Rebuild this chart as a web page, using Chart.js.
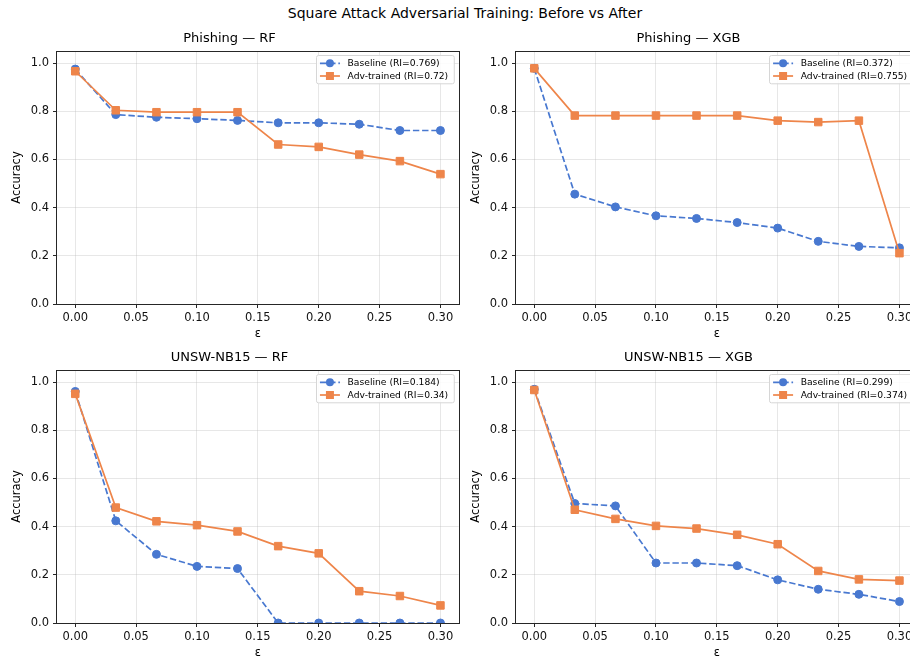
<!DOCTYPE html>
<html><head><meta charset="utf-8">
<script src="https://cdn.jsdelivr.net/npm/chart.js@4.4.1/dist/chart.umd.min.js"></script>
<style>
html,body{margin:0;padding:0;background:#fff;width:910px;height:658px;overflow:hidden;position:relative;}
#sup{position:absolute;left:0;width:930px;top:5px;text-align:center;font:14px 'DejaVu Sans';line-height:17px;color:#000;white-space:nowrap;}
canvas{position:absolute;}
</style></head><body>
<div id="sup">Square Attack Adversarial Training: Before vs After</div>
<canvas id="c0" width="465" height="342" style="left:0px;top:0px"></canvas>
<canvas id="c1" width="465" height="342" style="left:459px;top:0px"></canvas>
<canvas id="c2" width="465" height="342" style="left:0px;top:319px"></canvas>
<canvas id="c3" width="465" height="342" style="left:459px;top:319px"></canvas>
<script>
// ---- data ----
const epsilon = [0, 0.0333, 0.0667, 0.1, 0.1333, 0.1667, 0.2, 0.2333, 0.2667, 0.3];
const xTickValues = [0, 0.05, 0.10, 0.15, 0.20, 0.25, 0.30];
const yTickValues = [0, 0.2, 0.4, 0.6, 0.8, 1.0];
const panelTitles = ['Phishing — RF', 'Phishing — XGB', 'UNSW-NB15 — RF', 'UNSW-NB15 — XGB'];
const baselineRI = ['0.769', '0.372', '0.184', '0.299'];
const advRI = ['0.72', '0.755', '0.34', '0.374'];
const phishingRFBaseline = [0.975, 0.786, 0.775, 0.769, 0.762, 0.752, 0.752, 0.746, 0.720, 0.720];
const phishingRFAdv      = [0.966, 0.804, 0.796, 0.796, 0.796, 0.662, 0.652, 0.620, 0.593, 0.539];
const phishingXGBBaseline = [0.978, 0.456, 0.403, 0.366, 0.355, 0.338, 0.315, 0.260, 0.239, 0.233];
const phishingXGBAdv      = [0.978, 0.782, 0.782, 0.782, 0.782, 0.782, 0.761, 0.755, 0.761, 0.211];
const unswRFBaseline = [0.961, 0.424, 0.285, 0.235, 0.226, 0, 0, 0, 0, 0];
const unswRFAdv      = [0.951, 0.479, 0.422, 0.406, 0.380, 0.319, 0.289, 0.132, 0.112, 0.073];
const unswXGBBaseline = [0.970, 0.496, 0.486, 0.249, 0.249, 0.238, 0.179, 0.140, 0.119, 0.089];
const unswXGBAdv      = [0.967, 0.470, 0.432, 0.403, 0.392, 0.366, 0.327, 0.216, 0.181, 0.176];
const baselineSeries = [phishingRFBaseline, phishingXGBBaseline, unswRFBaseline, unswXGBBaseline];
const advSeries = [phishingRFAdv, phishingXGBAdv, unswRFAdv, unswXGBAdv];

const BLUE = '#4878d0', ORANGE = '#ee854a';
const FONT = 'DejaVu Sans';

const framePlugin = {
  id: 'frame',
  afterDatasetsDraw(chart) {
    const {ctx, chartArea: a} = chart;
    ctx.save();
    ctx.strokeStyle = '#262626';
    ctx.lineWidth = 1;
    const l = Math.round(a.left) - 0.5, t = Math.round(a.top) + 0.5;
    const r = Math.round(a.right) + 0.5, b = Math.round(a.bottom) + 0.5;
    ctx.strokeRect(l, t, r - l, b - t);
    ctx.restore();
  }
};

const legendPlugin = {
  id: 'mplLegend',
  afterDraw(chart) {
    const {ctx, chartArea: a} = chart;
    const ds = chart.data.datasets;
    ctx.save();
    ctx.font = '9.2px ' + FONT;
    let maxW = 0;
    ds.forEach(d => { maxW = Math.max(maxW, ctx.measureText(d.label).width); });
    const w = 31.6 + maxW + 5.5, h = 28.3;
    const x = a.right - 5 - w, y = a.top + 4;
    ctx.fillStyle = 'rgba(255,255,255,0.85)';
    ctx.strokeStyle = '#d6d6d6';
    ctx.lineWidth = 1;
    ctx.beginPath();
    ctx.roundRect(Math.round(x) + 0.5, Math.round(y) + 0.5, w, h, 2);
    ctx.fill(); ctx.stroke();
    ds.forEach((d, i) => {
      const cy = y + 8.3 + i * 12.7;
      ctx.strokeStyle = d.borderColor;
      ctx.lineWidth = 1.7;
      ctx.setLineDash(d.borderDash || []);
      ctx.beginPath(); ctx.moveTo(x + 4, cy); ctx.lineTo(x + 24, cy); ctx.stroke();
      ctx.setLineDash([]);
      ctx.fillStyle = d.borderColor;
      if (d.pointStyle === 'rect') {
        ctx.fillRect(x + 14 - 4, cy - 4, 8, 8);
      } else {
        ctx.beginPath(); ctx.arc(x + 14, cy, 4, 0, Math.PI * 2); ctx.fill();
      }
      ctx.fillStyle = '#000';
      ctx.textBaseline = 'middle';
      ctx.textAlign = 'left';
      ctx.fillText(d.label, x + 31.6, cy + 0.5);
    });
    ctx.restore();
  }
};

function makeChart(i) {
  const ctx = document.getElementById('c' + i);
  return new Chart(ctx, {
    type: 'line',
    data: {
      datasets: [
        {
          label: 'Baseline (RI=' + baselineRI[i] + ')',
          data: epsilon.map((e, k) => ({x: e, y: baselineSeries[i][k]})),
          borderColor: BLUE, backgroundColor: BLUE,
          borderWidth: 1.7, borderDash: [6.4, 2.8],
          pointStyle: 'circle', pointRadius: 4, pointBorderWidth: 1,
          pointBackgroundColor: BLUE, pointBorderColor: BLUE,
          tension: 0, order: 2
        },
        {
          label: 'Adv-trained (RI=' + advRI[i] + ')',
          data: epsilon.map((e, k) => ({x: e, y: advSeries[i][k]})),
          borderColor: ORANGE, backgroundColor: ORANGE,
          borderWidth: 1.7,
          pointStyle: 'rect', pointRadius: 5.3, pointBorderWidth: 1,
          pointBackgroundColor: ORANGE, pointBorderColor: ORANGE,
          tension: 0, order: 1
        }
      ]
    },
    options: {
      responsive: false, animation: false, devicePixelRatio: 1,
      layout: {padding: {left: 0, right: 6, top: 0, bottom: 0}},
      plugins: {
        legend: {display: false},
        tooltip: {enabled: false},
        title: {
          display: true, text: panelTitles[i], color: '#000',
          font: {family: FONT, size: 13, weight: 'normal', lineHeight: 1.2},
          padding: {top: 31.2, bottom: 4.2}
        }
      },
      scales: {
        x: {
          type: 'linear', min: -0.015, max: 0.315,
          afterBuildTicks: s => { s.ticks = xTickValues.map(v => ({value: v})); },
          afterFit: s => { s.height = 38; },
          grid: {color: 'rgba(176,176,176,0.3)', lineWidth: 1, tickLength: 4, tickColor: '#262626', tickWidth: 1},
          border: {display: false},
          ticks: {color: '#111', font: {family: FONT, size: 11.5}, padding: 3, maxRotation: 0,
                  callback: v => Number(v).toFixed(2)},
          title: {display: true, text: 'ε', color: '#000', font: {family: FONT, size: 11.5, lineHeight: 1.2},
                  padding: {top: 0, bottom: 1}}
        },
        y: {
          type: 'linear', min: 0, max: 1.05,
          afterBuildTicks: s => { s.ticks = yTickValues.map(v => ({value: v})); },
          afterFit: s => { s.width = 57; },
          grid: {color: 'rgba(176,176,176,0.3)', lineWidth: 1, tickLength: 4, tickColor: '#262626', tickWidth: 1},
          border: {display: false},
          ticks: {color: '#111', font: {family: FONT, size: 11.5}, padding: 4,
                  callback: v => Number(v).toFixed(1)},
          title: {display: true, text: 'Accuracy', color: '#000', font: {family: FONT, size: 11.5, lineHeight: 1.2},
                  padding: {top: 10.5, bottom: 0}}
        }
      }
    },
    plugins: [framePlugin, legendPlugin]
  });
}
[0, 1, 2, 3].forEach(makeChart);
</script>
</body></html>
